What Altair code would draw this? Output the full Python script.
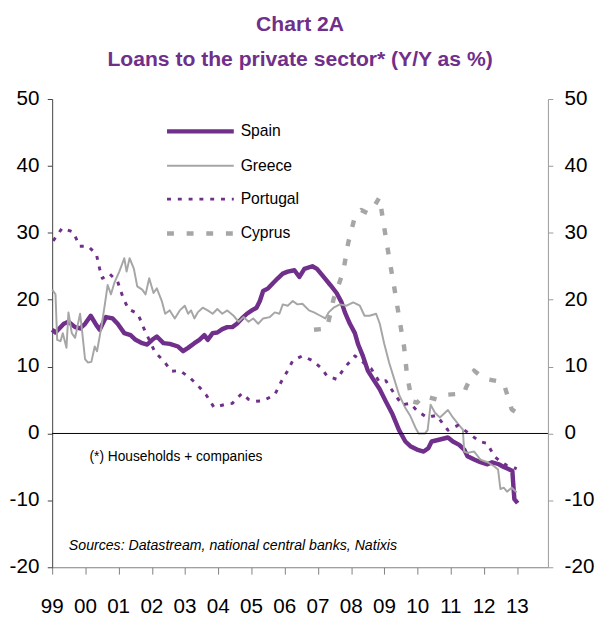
import altair as alt
import pandas as pd

# ---------------- data ----------------
series_names = ["Spain", "Greece", "Portugal", "Cyprus"]
year_ticks = list(range(1999, 2014))
year_labels = ["99", "00", "01", "02", "03", "04", "05", "06", "07", "08", "09", "10", "11", "12", "13"]
y_ticks = [-20, -10, 0, 10, 20, 30, 40, 50]
y_labels = ["-20", "-10", "0", "10", "20", "30", "40", "50"]

spain_t = [1999.00, 1999.10, 1999.35, 1999.49, 1999.69, 1999.84, 1999.99, 2000.16, 2000.33, 2000.43,
           2000.62, 2000.82, 2000.97, 2001.17, 2001.36, 2001.51, 2001.71, 2001.86, 2002.01, 2002.15,
           2002.35, 2002.54, 2002.79, 2002.94, 2003.09, 2003.28, 2003.43, 2003.58, 2003.68, 2003.83,
           2003.97, 2004.12, 2004.27, 2004.42, 2004.56, 2004.71, 2004.86, 2005.01, 2005.15, 2005.25,
           2005.35, 2005.50, 2005.65, 2005.79, 2005.94, 2006.09, 2006.29, 2006.44, 2006.59, 2006.83,
           2006.97, 2007.17, 2007.37, 2007.56, 2007.71, 2007.81, 2007.96, 2008.11, 2008.21, 2008.35,
           2008.50, 2008.65, 2008.85, 2009.04, 2009.24, 2009.44, 2009.63, 2009.78, 2009.98, 2010.18,
           2010.32, 2010.42, 2010.67, 2010.91, 2011.06, 2011.25, 2011.40, 2011.50, 2011.70, 2011.89,
           2012.10, 2012.24, 2012.44, 2012.59, 2012.73, 2012.85, 2012.88, 2012.91, 2013.01]
spain_v = [15.5, 15.1, 16.4, 16.7, 15.9, 15.7, 16.4, 17.6, 16.2, 15.5,
           17.4, 17.2, 16.4, 15.0, 14.7, 14.0, 13.5, 13.3, 14.0, 14.5,
           13.5, 13.4, 13.0, 12.3, 12.8, 13.5, 14.0, 14.7, 14.0, 15.0,
           15.1, 15.6, 15.9, 15.9, 16.4, 17.2, 17.9, 18.4, 18.8, 19.8,
           21.3, 21.7, 22.5, 23.2, 23.9, 24.2, 24.4, 23.4, 24.6, 25.0,
           24.6, 23.4, 22.2, 21.0, 19.6, 18.1, 16.4, 15.0, 13.3, 11.6,
           9.4, 8.2, 6.7, 4.8, 2.9, 0.5, -1.2, -1.9, -2.4, -2.7,
           -2.2, -1.2, -0.9, -0.6, -1.2, -1.7, -2.4, -3.4, -3.9, -4.3,
           -4.6, -4.3, -4.6, -5.0, -5.3, -5.6, -7.8, -9.8, -10.4]

greece_t = [1999.00, 1999.10, 1999.15, 1999.25, 1999.32, 1999.43, 1999.49, 1999.59, 1999.69, 1999.84,
            1999.89, 1999.99, 2000.08, 2000.18, 2000.28, 2000.35, 2000.48, 2000.58, 2000.67, 2000.77,
            2000.87, 2001.02, 2001.17, 2001.24, 2001.33, 2001.46, 2001.56, 2001.71, 2001.81, 2001.92,
            2002.05, 2002.15, 2002.30, 2002.40, 2002.54, 2002.69, 2002.84, 2002.99, 2003.09, 2003.18,
            2003.28, 2003.38, 2003.53, 2003.68, 2003.83, 2003.97, 2004.12, 2004.27, 2004.46, 2004.61,
            2004.76, 2004.91, 2005.05, 2005.20, 2005.35, 2005.55, 2005.70, 2005.84, 2005.94, 2006.09,
            2006.24, 2006.38, 2006.53, 2006.73, 2006.88, 2007.07, 2007.22, 2007.32, 2007.47, 2007.66,
            2007.86, 2008.06, 2008.26, 2008.40, 2008.55, 2008.75, 2008.86, 2008.99, 2009.14, 2009.29,
            2009.44, 2009.63, 2009.78, 2009.93, 2010.03, 2010.22, 2010.30, 2010.39, 2010.52, 2010.67,
            2010.91, 2011.06, 2011.25, 2011.36, 2011.40, 2011.50, 2011.70, 2011.89, 2012.10, 2012.30,
            2012.42, 2012.49, 2012.59, 2012.69, 2012.83, 2012.98]
greece_v = [21.5, 20.8, 14.0, 13.8, 15.0, 12.8, 18.1, 15.0, 14.3, 17.9,
            15.8, 11.1, 10.6, 10.7, 13.0, 12.3, 15.9, 19.1, 22.2, 20.8,
            22.5, 24.2, 26.2, 24.2, 26.2, 24.6, 22.0, 21.5, 20.8, 23.2,
            21.0, 21.7, 19.8, 17.9, 18.4, 17.2, 18.4, 19.1, 17.9, 18.4,
            17.2, 18.1, 18.8, 18.4, 17.9, 18.6, 17.9, 18.4, 17.6, 16.7,
            17.4, 16.7, 17.2, 16.4, 17.2, 17.4, 18.1, 17.9, 19.3, 19.1,
            19.8, 19.3, 19.4, 18.4, 18.1, 17.6, 17.2, 18.1, 18.8, 19.3,
            19.1, 19.6, 19.1, 17.6, 17.6, 17.9, 16.4, 13.5, 10.6, 8.2,
            5.8, 3.8, 2.6, 0.9, 0.0, 0.0, 0.5, 4.3, 3.1, 2.4,
            3.5, 2.4, 1.2, 0.6, -2.7, -2.9, -2.7, -3.9, -4.3, -4.9,
            -5.4, -8.3, -8.1, -8.7, -8.1, -8.8]

portugal_t = [1999.03, 1999.30, 1999.64, 1999.82, 2000.08, 2000.33, 2000.43, 2000.51, 2000.72, 2000.97,
              2001.12, 2001.29, 2001.58, 2001.76, 2002.10, 2002.35, 2002.59, 2002.84, 2003.13, 2003.38,
              2003.63, 2003.87, 2004.17, 2004.42, 2004.71, 2004.91, 2005.10, 2005.35, 2005.70, 2005.89,
              2006.09, 2006.24, 2006.53, 2006.83, 2007.12, 2007.27, 2007.56, 2007.81, 2008.11, 2008.60,
              2008.85, 2009.04, 2009.29, 2009.53, 2009.78, 2009.98, 2010.28, 2010.57, 2010.91, 2011.21,
              2011.55, 2011.86, 2012.10, 2012.30, 2012.50, 2012.69, 2012.85, 2012.98]
portugal_v = [28.8, 30.7, 30.1, 28.0, 28.0, 26.8, 24.6, 23.2, 23.9, 22.7,
              20.5, 18.6, 17.9, 15.7, 12.1, 10.9, 9.3, 9.4, 8.4, 7.2,
              5.8, 3.9, 4.3, 4.5, 6.0, 5.1, 4.8, 4.9, 5.8, 7.7,
              9.4, 10.9, 11.6, 10.9, 9.7, 8.6, 8.1, 9.9, 11.6, 9.7,
              7.7, 7.9, 6.0, 4.3, 4.5, 3.4, 2.4, 2.7, 0.5, 1.2,
              0.0, -1.2, -1.5, -3.4, -4.2, -4.8, -5.0, -5.3]

cyprus_t = [2006.88, 2007.27, 2007.47, 2007.76, 2007.91, 2008.11, 2008.30, 2008.50, 2008.65, 2008.85,
            2008.99, 2009.14, 2009.29, 2009.44, 2009.59, 2009.68, 2009.83, 2009.98, 2010.18, 2010.57,
            2010.91, 2011.40, 2011.45, 2011.70, 2012.00, 2012.54, 2012.62, 2012.83, 2012.98]
cyprus_v = [15.5, 15.7, 20.1, 24.2, 28.5, 32.4, 33.4, 32.9, 33.6, 35.3,
            30.9, 26.3, 22.0, 17.4, 13.0, 8.7, 4.8, 4.6, 5.6, 5.1,
            5.8, 6.0, 6.8, 9.4, 8.2, 7.7, 7.0, 3.6, 3.1]

title_lines = ["Chart 2A", "Loans to the private sector* (Y/Y as %)"]
note_text = "(*) Households + companies"
source_text = "Sources: Datastream, national central banks, Natixis"

# ---------------- styling ----------------
PURPLE = "#702F8A"
GREY = "#A6A6A6"
FONT = "Liberation Sans"
W, H = 505, 477

styles = {
    "Spain": dict(color=PURPLE, strokeWidth=4.5),
    "Greece": dict(color=GREY, strokeWidth=2),
    "Portugal": dict(color=PURPLE, strokeWidth=3, strokeDash=[4, 7]),
    "Cyprus": dict(color=GREY, strokeWidth=4.5, strokeDash=[7, 13]),
}
data = {
    "Spain": (spain_t, spain_v),
    "Greece": (greece_t, greece_v),
    "Portugal": (portugal_t, portugal_v),
    "Cyprus": (cyprus_t, cyprus_v),
}

x_scale = alt.Scale(domain=[1999.0, 2013.92], nice=False, zero=False)
y_scale = alt.Scale(domain=[-20, 50], nice=False, zero=False)

x_axis = alt.Axis(values=year_ticks, labels=False, grid=False, title=None,
                  domainColor="#808080", tickColor="#808080", tickSize=7)
left_axis = alt.Axis(values=y_ticks, orient="left", labels=False, grid=False, title=None,
                     domainColor="#404040", tickColor="#404040", tickSize=5)
right_axis = alt.Axis(values=y_ticks, orient="right", labels=False, grid=False, title=None,
                      domainColor="#999999", tickColor="#999999", tickSize=5)

layers = []
for i, name in enumerate(series_names):
    t, v = data[name]
    df = pd.DataFrame({"t": t, "v": v, "s": name})
    layers.append(
        alt.Chart(df).mark_line(strokeJoin="round", **styles[name]).encode(
            x=alt.X("t:Q", scale=x_scale, axis=x_axis),
            y=alt.Y("v:Q", scale=y_scale, axis=left_axis if i == 0 else None),
        )
    )

# zero line, carrying the right-hand axis
layers.append(alt.Chart(pd.DataFrame({"z": [0]})).mark_rule(color="black", strokeWidth=1).encode(
    y=alt.Y("z:Q", scale=y_scale, axis=right_axis)))

# tick labels, placed through the scales
layers.append(alt.Chart(pd.DataFrame({"t": year_ticks, "lab": year_labels})).mark_text(
    align="center", baseline="middle", font=FONT, fontSize=21, color="black").encode(
    x=alt.X("t:Q", scale=x_scale, axis=x_axis), y=alt.value(H + 41), text="lab:N"))
ylab_df = pd.DataFrame({"v": y_ticks, "lab": y_labels})
layers.append(alt.Chart(ylab_df).mark_text(
    align="right", baseline="middle", font=FONT, fontSize=21, color="black").encode(
    y=alt.Y("v:Q", scale=y_scale, axis=None), x=alt.value(-13), text="lab:N"))
layers.append(alt.Chart(ylab_df).mark_text(
    align="left", baseline="middle", font=FONT, fontSize=21, color="black").encode(
    y=alt.Y("v:Q", scale=y_scale, axis=None), x=alt.value(W + 17), text="lab:N"))

# legend (hand-built, inside the plot)
leg_y = [33, 68, 102, 137]
for name, ly in zip(series_names, leg_y):
    ldf = pd.DataFrame({"s": [name]})
    layers.append(alt.Chart(ldf).mark_rule(**styles[name]).encode(
        x=alt.value(117), x2=alt.value(185), y=alt.value(ly)))
    layers.append(alt.Chart(ldf).mark_text(align="left", baseline="middle", font=FONT,
                                           fontSize=16, color="black").encode(
        text="s:N", x=alt.value(192), y=alt.value(ly)))

# annotations
layers.append(alt.Chart(pd.DataFrame({"s": [note_text]})).mark_text(
    align="left", baseline="middle", font=FONT, fontSize=14, color="black").encode(
    text="s:N", x=alt.value(38), y=alt.value(365)))
layers.append(alt.Chart(pd.DataFrame({"s": [source_text]})).mark_text(
    align="left", baseline="middle", font=FONT, fontSize=14.4, fontStyle="italic", color="black").encode(
    text="s:N", x=alt.value(17), y=alt.value(455)))

# title
for line, ty in zip(title_lines, [-75, -40]):
    layers.append(alt.Chart(pd.DataFrame({"s": [line]})).mark_text(
        align="center", baseline="middle", font=FONT, fontSize=21.5, fontWeight="bold",
        color=PURPLE).encode(text="s:N", x=alt.value(W / 2), y=alt.value(ty)))

chart = alt.layer(*layers).properties(
    width=W, height=H, autosize="none",
    padding={"left": 45, "top": 87, "right": 50, "bottom": 48},
).configure_view(stroke=None)

chart.save("out.html", embed_options={"renderer": "svg", "actions": False})
